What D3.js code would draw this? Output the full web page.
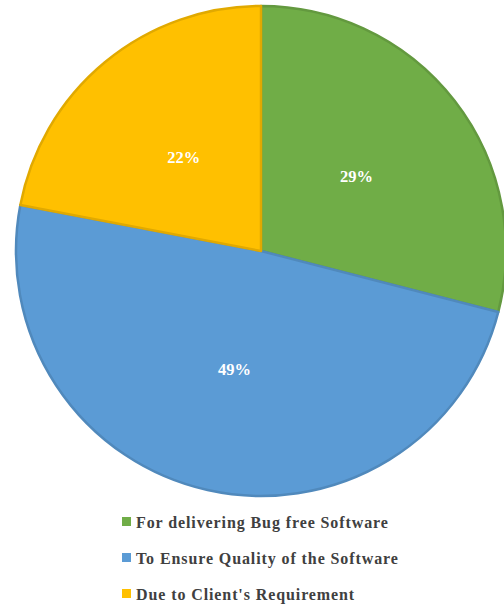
<!DOCTYPE html>
<html>
<head>
<meta charset="utf-8">
<script src="https://cdn.jsdelivr.net/npm/d3@7"></script>
<style>
  html, body { margin: 0; padding: 0; background: #ffffff; }
  svg { display: block; }
</style>
</head>
<body>
<svg id="chart" width="504" height="609"></svg>
<script>
// Reasons for software testing (share of responses)
const categories = [
  "For delivering Bug free Software",
  "To Ensure Quality of the Software",
  "Due to Client's Requirement"
];
const values = [29, 49, 22];
const colors = ["#70AD47", "#5B9BD5", "#FFC000"];

const svg = d3.select("#chart");
const cx = 261, cy = 251, radius = 245;

const pie = d3.pie().sort(null).value(d => d.value);
const data = pie(categories.map((c, i) => ({ name: c, value: values[i], color: colors[i] })));

const arc = d3.arc().innerRadius(0).outerRadius(radius);
const labelArc = d3.arc().innerRadius(121).outerRadius(121);

const g = svg.append("g").attr("transform", `translate(${cx},${cy})`);

g.selectAll("path.slice")
  .data(data)
  .join("path")
  .attr("class", "slice")
  .attr("d", arc)
  .attr("fill", d => d.data.color)
  .attr("stroke", d => d3.color(d.data.color).darker(0.35))
  .attr("stroke-width", 2.5)
  .attr("stroke-linejoin", "round");

g.selectAll("text.pct")
  .data(data)
  .join("text")
  .attr("class", "pct")
  .attr("transform", d => `translate(${labelArc.centroid(d)})`)
  .attr("text-anchor", "middle")
  .attr("dominant-baseline", "central")
  .attr("font-family", "'Liberation Serif', 'Times New Roman', serif")
  .attr("font-weight", "bold")
  .attr("font-size", 16.5)
  .attr("fill", "#ffffff")
  .text(d => d.data.value + "%");

// Legend
const legend = svg.append("g").attr("transform", "translate(122,522)");
const rowGap = 36;
const rows = legend.selectAll("g.item")
  .data(data)
  .join("g")
  .attr("class", "item")
  .attr("transform", (d, i) => `translate(0,${i * rowGap})`);

rows.append("rect")
  .attr("x", 0).attr("y", -5)
  .attr("width", 9).attr("height", 9)
  .attr("fill", d => d.data.color);

rows.append("text")
  .attr("x", 14)
  .attr("y", 0)
  .attr("dominant-baseline", "central")
  .attr("font-family", "'Liberation Serif', 'Times New Roman', serif")
  .attr("font-weight", "bold")
  .attr("font-size", 16)
  .attr("letter-spacing", 0.9)
  .attr("fill", "#404040")
  .text(d => d.data.name);
</script>
</body>
</html>
